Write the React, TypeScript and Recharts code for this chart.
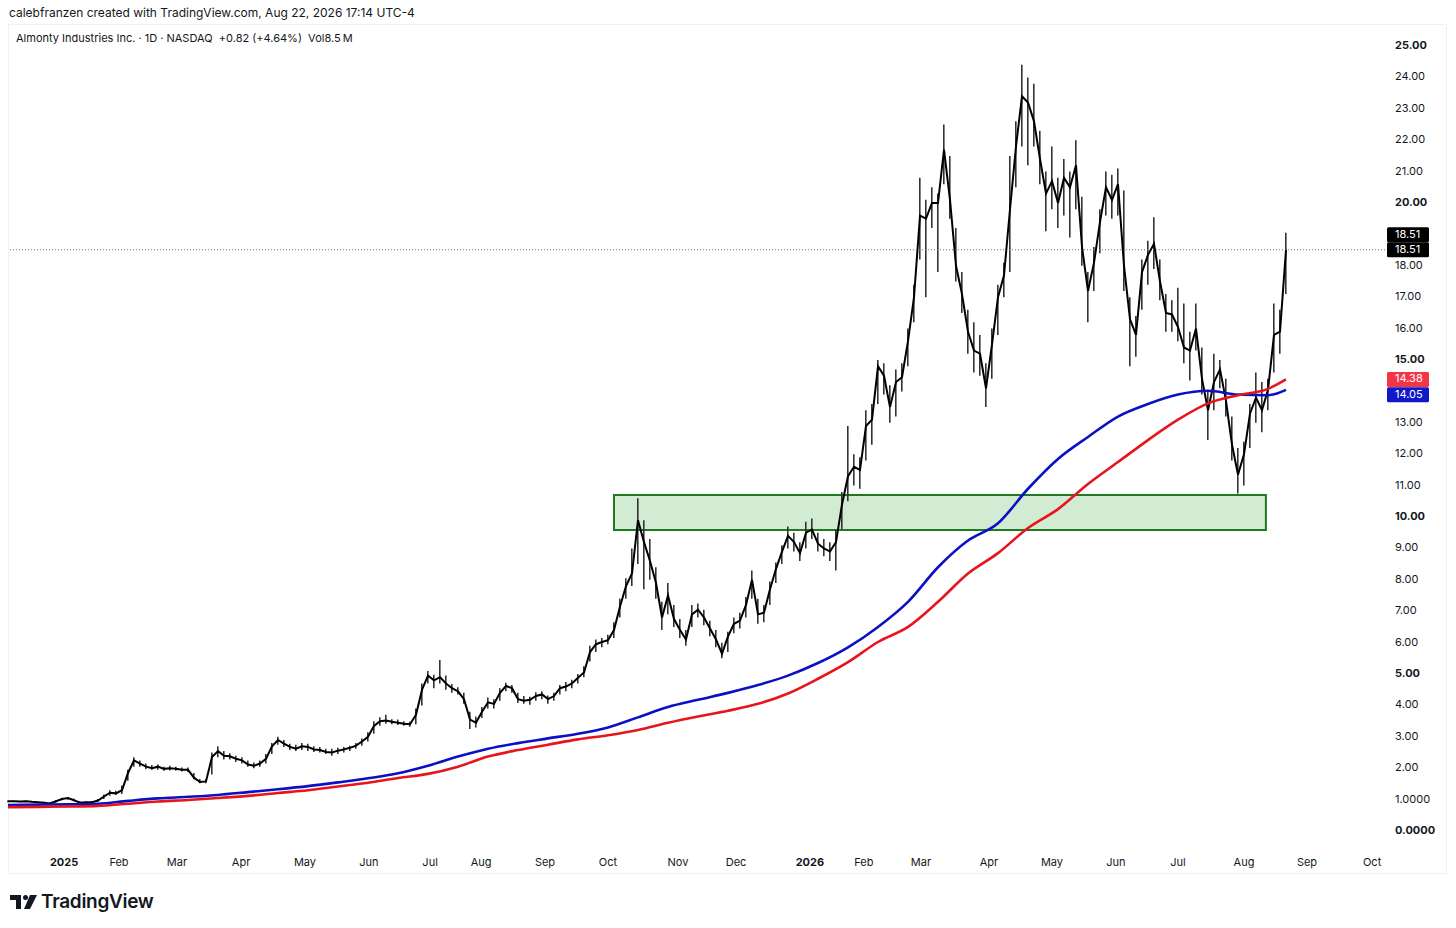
import React from 'react'
import {
  ComposedChart,
  Line,
  Bar,
  XAxis,
  YAxis,
  ReferenceArea,
  ReferenceLine,
} from 'recharts'

// one point every 2 daily bars, from late Dec 2024 to Aug 22 2026
const closes = [
  0.95, 0.95, 0.94, 0.95, 0.93, 0.92, 0.9, 0.88, 0.95, 1.02, 1.05, 0.98, 0.9, 0.92, 0.92, 0.97, 1.1, 1.22, 1.2, 1.3,
  1.85, 2.25, 2.15, 2.05, 2.0, 2.05, 1.98, 2.0, 1.98, 1.95, 1.95, 1.7, 1.56, 1.58, 2.36, 2.55, 2.4, 2.38, 2.3, 2.25,
  2.12, 2.08, 2.15, 2.3, 2.7, 2.9, 2.78, 2.68, 2.62, 2.7, 2.68, 2.6, 2.58, 2.52, 2.5, 2.56, 2.6, 2.65, 2.72, 2.85,
  3.0, 3.35, 3.5, 3.52, 3.48, 3.45, 3.42, 3.4, 3.7, 4.5, 4.95, 4.8, 4.9, 4.7, 4.55, 4.45, 4.2, 3.55, 3.45, 3.8,
  4.1, 4.05, 4.4, 4.62, 4.55, 4.2, 4.15, 4.18, 4.3, 4.35, 4.2, 4.3, 4.55, 4.6, 4.7, 4.88, 5.05, 5.7, 5.95, 6.02,
  6.08, 6.4, 7.15, 7.8, 8.2, 9.9, 9.2, 8.6, 7.9, 6.8, 7.5, 6.75, 6.4, 6.1, 6.9, 7.05, 6.8, 6.45, 6.1, 5.65,
  6.2, 6.6, 6.7, 7.2, 8.0, 6.9, 6.95, 7.7, 8.35, 8.9, 9.4, 9.2, 8.85, 9.5, 9.6, 9.15, 9.0, 8.9, 9.2, 10.4,
  11.3, 11.6, 11.5, 12.9, 13.1, 14.8, 14.5, 13.5, 14.3, 14.45, 15.6, 17.0, 19.6, 19.5, 20.0, 20.0, 21.7, 20.1, 18.0, 17.1,
  15.9, 15.3, 15.2, 14.1, 15.5, 17.0, 17.7, 19.8, 21.8, 23.4, 23.2, 22.6, 21.4, 20.3, 20.7, 20.0, 20.8, 20.5, 21.2, 18.6,
  17.2, 18.1, 19.4, 20.5, 20.1, 20.6, 18.0, 16.3, 15.8, 17.8, 18.35, 18.7, 17.5, 16.5, 16.45, 16.05, 15.4, 15.3, 16.0, 14.4,
  13.4, 14.3, 14.7, 13.7, 12.3, 11.35, 12.0, 13.3, 13.8, 13.4, 14.05, 15.8, 15.9, 18.51,
]

const lows = [
  0.92, 0.93, 0.92, 0.93, 0.91, 0.9, 0.88, 0.86, 0.9, 0.98, 1.0, 0.95, 0.87, 0.89, 0.9, 0.93, 1.02, 1.12, 1.15, 1.18,
  1.6, 2.05, 2.05, 1.97, 1.95, 1.95, 1.92, 1.93, 1.92, 1.9, 1.88, 1.65, 1.52, 1.52, 1.8, 2.35, 2.28, 2.28, 2.2, 2.15,
  2.05, 2.0, 2.05, 2.15, 2.45, 2.75, 2.68, 2.58, 2.55, 2.58, 2.55, 2.52, 2.5, 2.45, 2.4, 2.45, 2.5, 2.55, 2.62, 2.72,
  2.85, 3.1, 3.35, 3.42, 3.4, 3.38, 3.35, 3.32, 3.4, 4.0, 4.7, 4.55, 4.7, 4.5, 4.4, 4.35, 4.05, 3.25, 3.3, 3.6,
  3.9, 3.9, 4.15, 4.45, 4.4, 4.08, 4.05, 4.02, 4.15, 4.2, 4.05, 4.15, 4.35, 4.45, 4.55, 4.7, 4.9, 5.4, 5.7, 5.85,
  5.95, 6.15, 6.8, 7.4, 7.8, 8.5, 7.7, 8.0, 7.4, 6.4, 6.9, 6.5, 6.15, 5.9, 6.5, 6.8, 6.55, 6.2, 5.85, 5.5,
  5.7, 6.3, 6.45, 6.8, 7.4, 6.6, 6.65, 7.2, 7.9, 8.5, 9.0, 8.9, 8.6, 9.0, 9.3, 8.9, 8.75, 8.6, 8.3, 9.6,
  10.5, 11.0, 10.9, 11.8, 12.3, 13.6, 13.9, 13.0, 13.2, 14.0, 14.8, 16.2, 18.2, 17.0, 19.2, 17.8, 20.6, 19.5, 17.5, 16.5,
  15.2, 14.6, 14.5, 13.5, 14.4, 15.8, 17.0, 17.8, 20.5, 21.8, 21.2, 21.8, 20.6, 19.1, 19.8, 19.2, 19.6, 18.9, 19.8, 18.0,
  16.2, 17.2, 18.4, 19.6, 19.5, 19.6, 17.2, 14.8, 15.1, 16.6, 17.4, 17.9, 16.9, 15.9, 15.9, 15.6, 14.9, 14.35, 15.3, 13.9,
  12.45, 13.4, 14.1, 13.2, 11.8, 10.75, 11.0, 12.2, 13.0, 12.7, 13.4, 14.6, 15.2, 17.1,
]

const highs = [
  0.97, 0.97, 0.96, 0.97, 0.95, 0.94, 0.93, 0.92, 0.98, 1.06, 1.08, 1.03, 0.95, 0.95, 0.96, 1.02, 1.16, 1.3, 1.28, 1.45,
  1.95, 2.35, 2.25, 2.15, 2.1, 2.12, 2.05, 2.08, 2.05, 2.02, 2.02, 1.85, 1.66, 1.65, 2.5, 2.7, 2.55, 2.48, 2.4, 2.35,
  2.25, 2.18, 2.25, 2.45, 2.8, 3.0, 2.9, 2.78, 2.75, 2.8, 2.78, 2.7, 2.68, 2.62, 2.62, 2.65, 2.68, 2.72, 2.8, 2.95,
  3.15, 3.5, 3.62, 3.7, 3.56, 3.55, 3.5, 3.48, 3.9, 4.7, 5.1, 4.98, 5.45, 4.95, 4.68, 4.58, 4.4, 3.8, 3.65, 3.95,
  4.25, 4.2, 4.55, 4.72, 4.65, 4.4, 4.3, 4.28, 4.42, 4.45, 4.32, 4.4, 4.65, 4.75, 4.82, 5.0, 5.25, 5.9, 6.1, 6.15,
  6.25, 6.65, 7.4, 8.05, 9.0, 10.6, 9.9, 9.3, 8.4, 7.3, 7.9, 7.2, 6.75, 6.4, 7.2, 7.25, 7.05, 6.7, 6.4, 6.0,
  6.35, 6.8, 6.95, 7.45, 8.3, 7.4, 7.2, 7.95, 8.55, 9.1, 9.7, 9.5, 9.2, 9.85, 9.95, 9.5, 9.3, 9.2, 9.6, 10.8,
  12.9, 12.0, 11.9, 13.4, 13.6, 15.0, 14.9, 14.2, 14.7, 14.9, 16.0, 17.4, 20.8, 20.1, 20.5, 20.3, 22.5, 21.5, 19.2, 17.8,
  16.6, 16.2, 15.8, 14.9, 16.0, 17.4, 18.1, 21.5, 22.6, 24.4, 24.0, 23.8, 22.3, 21.0, 21.8, 20.8, 21.4, 21.0, 22.0, 20.2,
  17.8, 18.6, 19.8, 21.0, 20.9, 21.1, 20.4, 17.0, 16.4, 18.2, 18.8, 19.55, 18.2, 17.1, 16.9, 17.3, 16.8, 15.9, 16.8, 15.4,
  14.0, 15.2, 15.0, 14.4, 13.2, 12.2, 12.4, 13.6, 14.6, 14.3, 14.4, 16.8, 16.6, 19.05,
]

// moving averages, read every 5th point (plus the last one)
const blueMa = [
  0.83, 0.84, 0.85, 0.87, 0.96, 1.04, 1.09, 1.15, 1.24, 1.33, 1.43, 1.55, 1.68, 1.84, 2.08, 2.37, 2.62, 2.8, 2.95, 3.1,
  3.3, 3.62, 3.95, 4.18, 4.4, 4.65, 4.95, 5.35, 5.85, 6.5, 7.3, 8.4, 9.25, 9.8, 10.9, 11.85, 12.55, 13.2, 13.6, 13.9,
  14.02, 13.9, 13.88, 14.05,
]
const redMa = [
  0.76, 0.77, 0.78, 0.8, 0.87, 0.94, 0.99, 1.05, 1.12, 1.21, 1.3, 1.42, 1.54, 1.69, 1.82, 2.05, 2.37, 2.58, 2.75, 2.92,
  3.05, 3.22, 3.45, 3.65, 3.83, 4.05, 4.38, 4.85, 5.38, 6.02, 6.5, 7.3, 8.2, 8.85, 9.65, 10.25, 11.05, 11.75, 12.45, 13.1,
  13.62, 13.88, 14.08, 14.38,
]

const monthTicks = [18.7, 37, 56.3, 77.7, 99, 120.3, 140.7, 157.7, 179, 200, 223.3, 242.7, 267.3, 285.3, 304.3, 327, 348, 369.3, 390, 412, 433, 454.7]
const monthLabels = ['2025', 'Feb', 'Mar', 'Apr', 'May', 'Jun', 'Jul', 'Aug', 'Sep', 'Oct', 'Nov', 'Dec', '2026', 'Feb', 'Mar', 'Apr', 'May', 'Jun', 'Jul', 'Aug', 'Sep', 'Oct']

const yTicks = [25, 24, 23, 22, 21, 20, 18, 17, 16, 15, 13, 12, 11, 10, 9, 8, 7, 6, 5, 4, 3, 2, 1, 0]
const yLabels = ['25.00', '24.00', '23.00', '22.00', '21.00', '20.00', '18.00', '17.00', '16.00', '15.00', '13.00', '12.00', '11.00', '10.00', '9.00', '8.00', '7.00', '6.00', '5.00', '4.00', '3.00', '2.00', '1.0000', '0.0000']

const zone = { from: 202, to: 419.3, low: 9.59, high: 10.7 }

const lastClose = closes[closes.length - 1]
const lastBlue = blueMa[blueMa.length - 1]
const lastRed = redMa[redMa.length - 1]

const rows = closes.map((c, k) => ({
  bar: k * 2,
  close: c,
  range: [lows[k], highs[k]],
  blue: null as number | null,
  red: null as number | null,
}))
blueMa.forEach((v, m) => {
  const k = m < blueMa.length - 1 ? m * 5 : closes.length - 1
  rows[k].blue = v
  rows[k].red = redMa[m]
})

const FONT = 'Inter, "Noto Sans", Arial, sans-serif'
const INK = '#131722'

const XTick = (props: any) => {
  const i = monthTicks.indexOf(props.payload.value)
  const label = monthLabels[i]
  const year = /^\d{4}$/.test(label)
  return (
    <text x={props.x} y={863} textAnchor="middle" dominantBaseline="middle" fontSize={11} fontFamily={FONT} fill={INK} fontWeight={year ? 700 : 400}>
      {label}
    </text>
  )
}

const YTick = (props: any) => {
  const v = props.payload.value
  const i = yTicks.indexOf(v)
  return (
    <text x={1395} y={props.y} dominantBaseline="middle" fontSize={11} fontFamily={FONT} fill={INK} fontWeight={v % 5 === 0 ? 700 : 400}>
      {yLabels[i]}
    </text>
  )
}

const tag = (text: string, color: string, shift: number, second?: boolean) => (props: any) => {
  const vb = props.viewBox
  const x = vb.x + vb.width + 2
  const cy = vb.y + shift
  const box = (y: number, key: string) => (
    <g key={key}>
      <rect x={x} y={y - 7.5} width={42} height={15} rx={1.5} fill={color} />
      <text x={x + 8} y={y} dominantBaseline="middle" fontSize={11} fontFamily={FONT} fill="#ffffff">
        {text}
      </text>
    </g>
  )
  return (
    <g>
      {second ? box(cy - 15, 'a') : null}
      {box(cy, 'b')}
    </g>
  )
}

export default function App() {
  return (
    <div style={{ position: 'absolute', left: 0, top: 0, width: 1456, height: 928, background: '#fff', fontFamily: FONT, color: INK }}>
      <div style={{ position: 'absolute', left: 9, top: 5, fontSize: 12, whiteSpace: 'nowrap' }}>
        calebfranzen created with TradingView.com, Aug 22, 2026 17:14 UTC-4
      </div>
      <div style={{ position: 'absolute', left: 8, top: 24, width: 1439, height: 850, border: '1px solid #f0f1f3', boxSizing: 'border-box' }} />
      <div style={{ position: 'absolute', left: 16, top: 31, fontSize: 11, whiteSpace: 'pre' }}>
        {'Almonty Industries Inc. · 1D · NASDAQ  +0.82 (+4.64%)  Vol8.5\u2009M'}
      </div>
      <div style={{ position: 'absolute', left: 0, top: 0 }}>
        <ComposedChart width={1456} height={928} data={rows} margin={{ top: 24, right: 0, bottom: 54, left: 8 }}>
          <XAxis
            dataKey="bar"
            type="number"
            domain={[0, 459]}
            ticks={monthTicks}
            tick={<XTick />}
            axisLine={false}
            tickLine={false}
            height={26}
            interval={0}
          />
          <YAxis
            orientation="right"
            type="number"
            domain={[-0.54, 25.7]}
            ticks={yTicks}
            tick={<YTick />}
            axisLine={false}
            tickLine={false}
            width={71}
            interval={0}
            allowDataOverflow
          />
          <ReferenceArea
            x1={zone.from}
            x2={zone.to}
            y1={zone.low}
            y2={zone.high}
            fill="rgba(76,175,80,0.25)"
            fillOpacity={1}
            stroke="#1f7a1f"
            strokeWidth={2}
          />
          <ReferenceLine y={lastClose} stroke="#6a6d78" strokeDasharray="1 2" label={tag(lastClose.toFixed(2), '#000000', 0, true)} />
          <Bar dataKey="range" barSize={1.6} fill="#333" isAnimationActive={false} />
          <Line dataKey="close" stroke="#000" strokeWidth={2} dot={false} type="linear" isAnimationActive={false} />
          <Line dataKey="blue" stroke="#0c10c4" strokeWidth={2.6} dot={false} type="monotone" connectNulls isAnimationActive={false} />
          <Line dataKey="red" stroke="#e8141c" strokeWidth={2.6} dot={false} type="monotone" connectNulls isAnimationActive={false} />
          <ReferenceLine y={lastRed} stroke="none" label={tag(lastRed.toFixed(2), '#f23645', 0)} />
          <ReferenceLine y={lastBlue} stroke="none" label={tag(lastBlue.toFixed(2), '#1018c8', 5)} />
        </ComposedChart>
      </div>
      <div style={{ position: 'absolute', left: 10, top: 890, display: 'flex', alignItems: 'center' }}>
        <svg width={28} height={18} viewBox="0 0 28 18">
          <path d="M0 2h11v14H6V7H0z" fill={INK} />
          <circle cx={15.5} cy={4.5} r={2.5} fill={INK} />
          <path d="M20 2h7l-7 14h-6z" fill={INK} />
        </svg>
        <span style={{ marginLeft: 3, fontSize: 19, fontWeight: 600, letterSpacing: -0.3 }}>TradingView</span>
      </div>
    </div>
  )
}
